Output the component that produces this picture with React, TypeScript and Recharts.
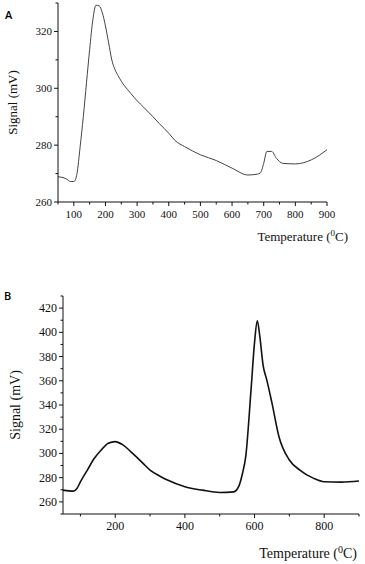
import React from "react";
import { LineChart, Line, XAxis, YAxis, Label } from "recharts";

// panel A
const tempA = [50, 75, 90, 100, 105, 110, 120, 130, 140, 150, 160, 170, 180, 190, 200, 210, 220, 230, 240, 250, 260, 270, 280, 300, 320, 350, 370, 400, 420, 450, 500, 550, 600, 650, 680, 690, 700, 710, 725, 740, 760, 800, 850, 900];
const signalA = [268.9, 268.2, 267.2, 267.2, 267.8, 270, 279.5, 290, 301.9, 313.6, 324, 329.2, 329, 326.6, 321.9, 316, 310, 306.6, 304.4, 302.5, 300.9, 299.5, 298.2, 295.6, 293.4, 290, 287.6, 284.2, 281.6, 279.5, 276.6, 274.6, 271.9, 269.5, 269.8, 270.3, 273.6, 277.8, 277.8, 275.4, 273.6, 273.4, 274.8, 278.4];
const ticksXA = [50, 100, 150, 200, 250, 300, 350, 400, 450, 500, 550, 600, 650, 700, 750, 800, 850, 900];
const ticksYA = [260, 270, 280, 290, 300, 310, 320, 330];

// panel B
const tempB = [50, 80, 90, 100, 120, 140, 160, 180, 200, 220, 250, 280, 300, 330, 350, 400, 450, 500, 540, 555, 565, 575, 590, 600, 608, 615, 625, 635, 650, 670, 700, 730, 770, 800, 850, 900];
const signalB = [269.7, 268.9, 271, 276.6, 286.3, 296, 302.9, 308.5, 309.8, 307.5, 300, 291.8, 286.3, 281, 278, 272.5, 269.7, 267.8, 268.3, 273, 283, 298, 352.7, 391.5, 409.5, 397, 372, 361, 341.7, 314, 294.6, 286.3, 279.4, 276.6, 276.3, 277.2];
const ticksXB = [100, 200, 300, 400, 500, 600, 700, 800, 900];
const ticksYB = [250, 260, 270, 280, 290, 300, 310, 320, 330, 340, 350, 360, 370, 380, 390, 400, 410, 420, 430];

const dataA = tempA.map((t, i) => ({ t, v: signalA[i] }));
const dataB = tempB.map((t, i) => ({ t, v: signalB[i] }));

const serif = "'Liberation Serif', 'DejaVu Serif', serif";

const XTick = ({ x, y, payload, major, size }: any) => {
  const isMajor = payload.value % major === 0;
  return (
    <g>
      <line x1={x} x2={x} y1={y} y2={y + (isMajor ? 4 : 2.5)} stroke="#111" />
      {isMajor && (
        <text x={x} y={y + 16} textAnchor="middle" fontSize={size} fontFamily={serif} fill="#111">
          {payload.value}
        </text>
      )}
    </g>
  );
};

const YTick = ({ x, y, payload, major, size }: any) => {
  const isMajor = payload.value % major === 0;
  return (
    <g>
      <line x1={x - (isMajor ? 4 : 2.5)} x2={x} y1={y} y2={y} stroke="#111" />
      {isMajor && (
        <text x={x - 6} y={y + 4} textAnchor="end" fontSize={size} fontFamily={serif} fill="#111">
          {payload.value}
        </text>
      )}
    </g>
  );
};

const TempLabel = ({ viewBox, dx, dy, size }: any) => {
  const { x, y, width } = viewBox;
  return (
    <text x={x + width + dx} y={y + dy} textAnchor="end" fontSize={size} fontFamily={serif} fill="#111">
      <tspan>Temperature (</tspan>
      <tspan dy={-5} fontSize={size - 4}>0</tspan>
      <tspan dy={5}>C)</tspan>
    </text>
  );
};

export default function App() {
  return (
    <div style={{ position: "absolute", left: 0, top: 0, width: 365, height: 564, background: "#fff" }}>
      <div style={{ position: "absolute", left: 5, top: 7, fontFamily: "'Open Sans', sans-serif", fontWeight: 600, fontSize: 11 }}>A</div>
      <div style={{ position: "absolute", left: 4, top: 288, fontFamily: "'Open Sans', sans-serif", fontWeight: 600, fontSize: 11 }}>B</div>
      <div style={{ position: "absolute", left: 0, top: 0 }}>
        <LineChart width={365} height={250} data={dataA} margin={{ top: 3, right: 38, bottom: 18, left: 0 }}>
          <XAxis
            dataKey="t"
            type="number"
            domain={[50, 900]}
            ticks={ticksXA}
            interval={0}
            tickSize={0}
            tickMargin={0}
            tickLine={false}
            height={30}
            stroke="#111"
            tick={<XTick major={100} size={11} />}
          >
            <Label content={<TempLabel dx={21} dy={39} size={13} />} />
          </XAxis>
          <YAxis
            type="number"
            domain={[260, 330]}
            ticks={ticksYA}
            interval={0}
            tickSize={0}
            tickMargin={0}
            tickLine={false}
            width={58}
            stroke="#111"
            tick={<YTick major={20} size={11} />}
          >
            <Label value="Signal (mV)" angle={-90} position="insideLeft" offset={12} style={{ textAnchor: "middle", fontFamily: serif, fontSize: 13, fill: "#111" }} />
          </YAxis>
          <Line type="monotone" dataKey="v" stroke="#444" strokeWidth={1} dot={false} isAnimationActive={false} />
        </LineChart>
      </div>
      <div style={{ position: "absolute", left: 0, top: 260 }}>
        <LineChart width={365} height={304} data={dataB} margin={{ top: 36, right: 6, bottom: 20, left: 0 }}>
          <XAxis
            dataKey="t"
            type="number"
            domain={[50, 900]}
            ticks={ticksXB}
            interval={0}
            tickSize={0}
            tickMargin={0}
            tickLine={false}
            height={30}
            stroke="#111"
            tick={<XTick major={200} size={12} />}
          >
            <Label content={<TempLabel dx={-2} dy={44} size={14} />} />
          </XAxis>
          <YAxis
            type="number"
            domain={[250, 430]}
            ticks={ticksYB}
            interval={0}
            tickSize={0}
            tickMargin={0}
            tickLine={false}
            width={63}
            stroke="#111"
            tick={<YTick major={20} size={12} />}
          >
            <Label value="Signal (mV)" angle={-90} position="insideLeft" offset={15} style={{ textAnchor: "middle", fontFamily: serif, fontSize: 14, fill: "#111" }} />
          </YAxis>
          <Line type="monotone" dataKey="v" stroke="#111" strokeWidth={1.6} dot={false} isAnimationActive={false} />
        </LineChart>
      </div>
    </div>
  );
}
